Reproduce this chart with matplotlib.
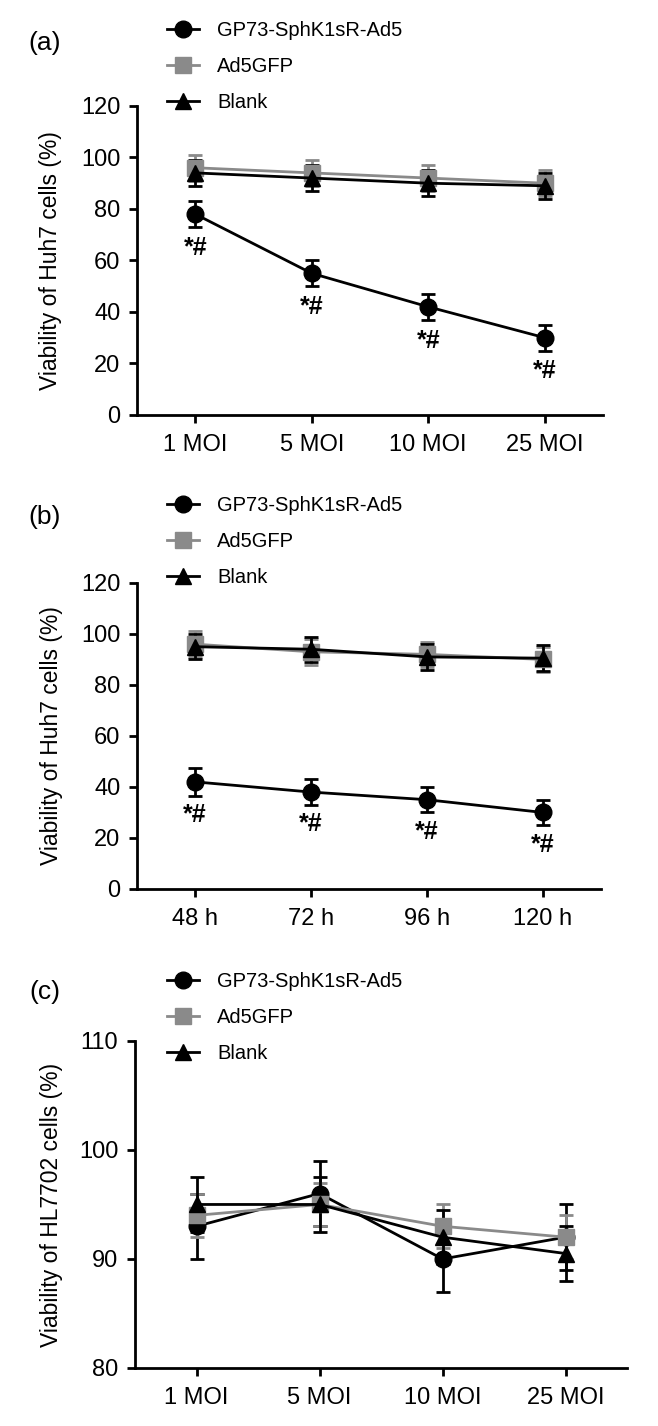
import numpy as np
import matplotlib
matplotlib.use("Agg")
import matplotlib.pyplot as plt

plt.rcParams['font.family'] = ['Liberation Sans', 'DejaVu Sans']

############################### DATA

series_names = ["GP73-SphK1sR-Ad5", "Ad5GFP", "Blank"]

moi_labels = ["1 MOI", "5 MOI", "10 MOI", "25 MOI"]
hour_labels = ["48 h", "72 h", "96 h", "120 h"]

# (a) Huh7, dose
a_gp73 = [78, 55, 42, 30]
a_gp73_err = [5, 5, 5, 5]
a_gfp = [96, 94, 92, 90]
a_gfp_err = [5, 5, 5, 5]
a_blank = [94, 92, 90, 89]
a_blank_err = [5, 5, 5, 5]

# (b) Huh7, time
b_gp73 = [42, 38, 35, 30]
b_gp73_err = [5.5, 5, 5, 5]
b_gfp = [96, 93, 92, 90]
b_gfp_err = [5, 5, 5, 5]
b_blank = [95, 94, 91, 90.5]
b_blank_err = [5, 5, 5, 5]

# (c) HL7702, dose
c_gp73 = [93, 96, 90, 92]
c_gp73_err = [3, 3, 3, 3]
c_gfp = [94, 95, 93, 92]
c_gfp_err = [2, 2, 2, 2]
c_blank = [95, 95, 92, 90.5]
c_blank_err = [2.5, 2.5, 2.5, 2.5]

sig_mark = "*#"

############################### STYLE

GRAY = "#8a8a8a"
styles = [
    dict(color="black", marker="o", ms=12),
    dict(color=GRAY, marker="s", ms=11),
    dict(color="black", marker="^", ms=12),
]
TICK_FS = 17
LEG_FS = 14.5
LW = 2.0


def draw_panel(ax, xlabels, groups, ylim, yticks, ylabel, stars=None, star_off=-14):
    x = np.arange(len(xlabels))
    handles = []
    for (vals, errs), st, name in zip(groups, styles, series_names):
        cont = ax.errorbar(x, vals, yerr=errs, color=st["color"], marker=st["marker"],
                           ms=st["ms"], lw=LW, elinewidth=LW, capsize=5, capthick=LW,
                           label=name)
        handles.append(cont.lines[0])
    if stars is not None:
        vals, errs = stars
        for xi, v, e in zip(x, vals, errs):
            ax.annotate(sig_mark, (xi, v - e), xytext=(0, star_off),
                        textcoords="offset points", ha="center", va="center",
                        fontsize=18, fontweight="bold")
    ax.set_xlim(-0.5, len(xlabels) - 0.5)
    ax.set_ylim(*ylim)
    ax.set_xticks(x)
    ax.set_xticklabels(xlabels)
    ax.set_yticks(yticks)
    ax.spines["top"].set_visible(False)
    ax.spines["right"].set_visible(False)
    for s in ["left", "bottom"]:
        ax.spines[s].set_linewidth(LW)
    ax.tick_params(axis="both", labelsize=TICK_FS, length=6, width=LW, pad=6)
    ax.tick_params(axis="x", pad=8)
    ax.set_ylabel(ylabel, fontsize=16.5)
    return handles


fig = plt.figure(figsize=(6.58, 14.26), dpi=100)

ax_a = fig.add_axes([0.2082, 0.7090, 0.7082, 0.2167])
ax_b = fig.add_axes([0.2082, 0.3766, 0.7050, 0.2146])
ax_c = fig.add_axes([0.2052, 0.0407, 0.7477, 0.2293])

h_a = draw_panel(ax_a, moi_labels,
                 [(a_gp73, a_gp73_err), (a_gfp, a_gfp_err), (a_blank, a_blank_err)],
                 (0, 120), np.arange(0, 121, 20), "Viability of Huh7 cells (%)",
                 stars=(a_gp73, a_gp73_err), star_off=-15)
h_b = draw_panel(ax_b, hour_labels,
                 [(b_gp73, b_gp73_err), (b_gfp, b_gfp_err), (b_blank, b_blank_err)],
                 (0, 120), np.arange(0, 121, 20), "Viability of Huh7 cells (%)",
                 stars=(b_gp73, b_gp73_err), star_off=-14)
h_c = draw_panel(ax_c, moi_labels,
                 [(c_gp73, c_gp73_err), (c_gfp, c_gfp_err), (c_blank, c_blank_err)],
                 (80, 110), [80, 90, 100, 110], "Viability of HL7702 cells (%)")

ax_a.yaxis.set_label_coords(-0.16, 0.5)
ax_b.yaxis.set_label_coords(-0.16, 0.5)
ax_c.yaxis.set_label_coords(-0.146, 0.5)

# legends above each panel
for ax, hs, ytop in [(ax_a, h_a, 1 - 21 / 1426), (ax_b, h_b, 1 - 496 / 1426),
                     (ax_c, h_c, 1 - 972 / 1426)]:
    ax.legend(hs, series_names, loc="upper left", bbox_to_anchor=(167 / 658, ytop),
              bbox_transform=fig.transFigure, frameon=False, fontsize=LEG_FS,
              handlelength=1.6, handletextpad=0.9, labelspacing=0.85,
              borderpad=0, borderaxespad=0)

# panel letters
for lab, ypx in [("(a)", 43), ("(b)", 517), ("(c)", 992)]:
    fig.text(45 / 658, 1 - ypx / 1426, lab, fontsize=19, ha="center", va="center")

plt.savefig("out.png", dpi=100)
